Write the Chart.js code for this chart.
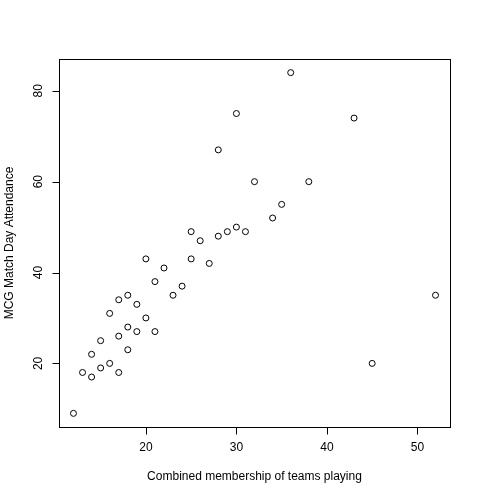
<!DOCTYPE html>
<html>
<head>
<meta charset="utf-8">
<script src="https://cdn.jsdelivr.net/npm/chart.js@4/dist/chart.umd.min.js"></script>
<style>
  body { margin: 0; background: #fff; }
  canvas { display: block; }
</style>
</head>
<body>
<canvas id="chart" width="480" height="500"></canvas>
<script>
const membership = [12, 13, 14, 14, 15, 15, 16, 16, 17, 17, 17, 18, 18, 18, 19, 19, 20, 20, 21, 21,
  22, 23, 24, 25, 25, 26, 27, 28, 28, 29, 30, 30, 31, 32, 34, 35, 36, 38, 43, 45, 52];
const attendance = [9, 18, 17, 22, 19, 25, 20, 31, 18, 26, 34, 23, 28, 35, 27, 33, 30, 43, 27, 38,
  41, 35, 37, 43, 49, 47, 42, 48, 67, 49, 50, 75, 49, 60, 52, 55, 84, 60, 74, 20, 35];
const xTicks = [20, 30, 40, 50];
const yTicks = [20, 40, 60, 80];

const xTitle = 'Combined membership of teams playing';
const yTitle = 'MCG Match Day Attendance';
const font = '12px "Liberation Sans", Arial, sans-serif';

// R style box, ticks and labels
const rAxes = {
  id: 'rAxes',
  afterDraw(chart) {
    const ctx = chart.ctx;
    const a = chart.chartArea;
    const xs = chart.scales.x;
    const ys = chart.scales.y;
    ctx.save();
    ctx.strokeStyle = '#000';
    ctx.lineWidth = 1;
    ctx.strokeRect(Math.round(a.left) + 0.5, Math.round(a.top) + 0.5,
      Math.round(a.right - a.left), Math.round(a.bottom - a.top));

    ctx.fillStyle = '#000';
    ctx.font = font;
    const by = Math.round(a.bottom) + 0.5;
    ctx.beginPath();
    xTicks.forEach(t => {
      const px = Math.round(xs.getPixelForValue(t)) + 0.5;
      ctx.moveTo(px, by);
      ctx.lineTo(px, by + 7);
    });
    const lx = Math.round(a.left) + 0.5;
    yTicks.forEach(t => {
      const py = Math.round(ys.getPixelForValue(t)) + 0.5;
      ctx.moveTo(lx, py);
      ctx.lineTo(lx - 7, py);
    });
    ctx.stroke();

    ctx.textAlign = 'center';
    ctx.textBaseline = 'middle';
    xTicks.forEach(t => {
      ctx.fillText(String(t), xs.getPixelForValue(t), a.bottom + 21);
    });
    yTicks.forEach(t => {
      ctx.save();
      ctx.translate(a.left - 20, ys.getPixelForValue(t));
      ctx.rotate(-Math.PI / 2);
      ctx.fillText(String(t), 0, 0);
      ctx.restore();
    });

    ctx.fillText(xTitle, (a.left + a.right) / 2, a.bottom + 50);
    ctx.save();
    ctx.translate(a.left - 49, (a.top + a.bottom) / 2);
    ctx.rotate(-Math.PI / 2);
    ctx.fillText(yTitle, 0, 0);
    ctx.restore();
    ctx.restore();
  }
};

const ctx = document.getElementById('chart').getContext('2d');
new Chart(ctx, {
  type: 'scatter',
  data: {
    datasets: [{
      data: membership.map((m, i) => ({ x: m, y: attendance[i] })),
      pointStyle: 'circle',
      pointRadius: 3,
      pointBorderWidth: 1,
      pointBorderColor: '#000',
      pointBackgroundColor: 'rgba(0,0,0,0)'
    }]
  },
  options: {
    responsive: false,
    animation: false,
    events: [],
    layout: { padding: { left: 59, right: 30, top: 59, bottom: 73 } },
    plugins: { legend: { display: false }, tooltip: { enabled: false } },
    scales: {
      x: { type: 'linear', min: 10.4, max: 53.6, display: false },
      y: { type: 'linear', min: 6, max: 87, display: false }
    }
  },
  plugins: [rAxes]
});
</script>
</body>
</html>
